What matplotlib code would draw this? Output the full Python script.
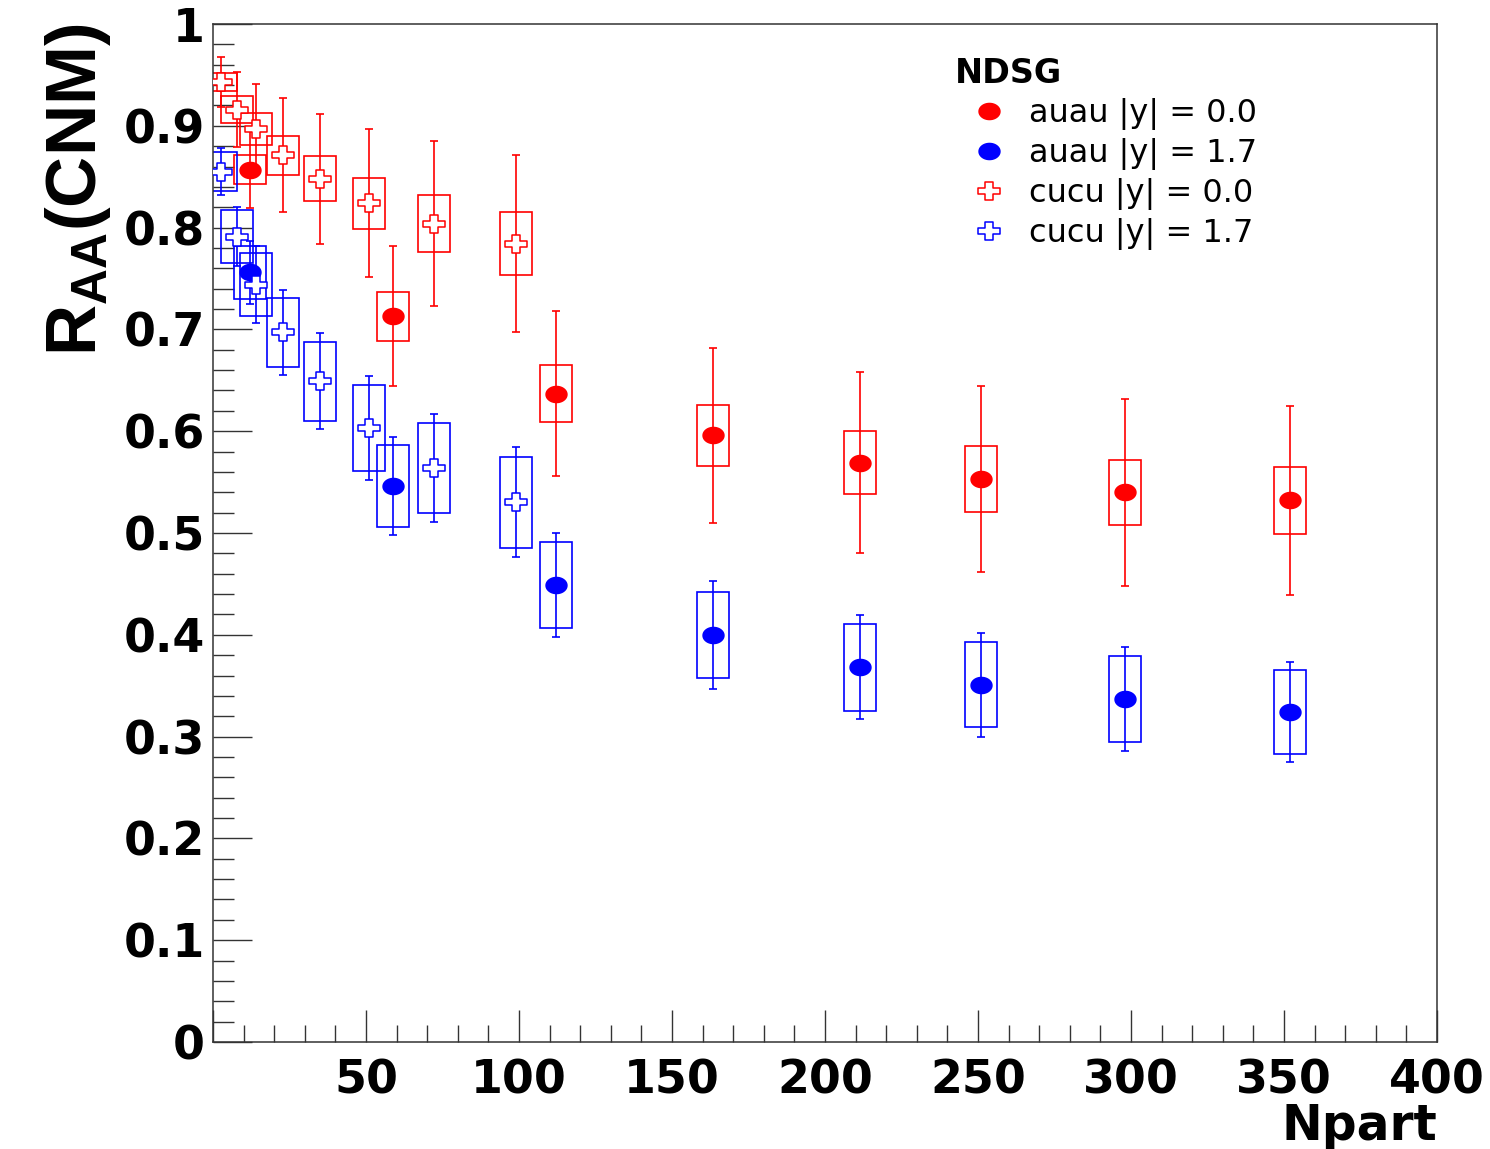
import numpy as np
import matplotlib
matplotlib.use("Agg")
from matplotlib import pyplot as plt
from matplotlib.path import Path
from matplotlib.patches import Rectangle
from matplotlib.ticker import MultipleLocator, FuncFormatter
from matplotlib.font_manager import FontProperties

# NDSG cold-nuclear-matter R_AA vs Npart
npart_auau = [12.1, 58.8, 112.1, 163.4, 211.4, 251.0, 298.0, 352.0]
raa_auau_y0 = [0.857, 0.713, 0.637, 0.596, 0.569, 0.553, 0.540, 0.532]
stat_auau_y0 = [0.038, 0.069, 0.081, 0.086, 0.089, 0.091, 0.092, 0.093]
sys_auau_y0 = [0.014, 0.024, 0.028, 0.030, 0.031, 0.032, 0.032, 0.033]

raa_auau_y17 = [0.756, 0.546, 0.449, 0.400, 0.368, 0.351, 0.337, 0.324]
stat_auau_y17 = [0.031, 0.048, 0.051, 0.053, 0.051, 0.051, 0.051, 0.049]
sys_auau_y17 = [0.026, 0.040, 0.042, 0.042, 0.043, 0.042, 0.042, 0.041]

npart_cucu = [2.6, 7.8, 14.1, 22.9, 35.0, 51.0, 72.2, 99.0]
raa_cucu_y0 = [0.943, 0.916, 0.897, 0.871, 0.848, 0.824, 0.804, 0.784]
stat_cucu_y0 = [0.025, 0.037, 0.044, 0.056, 0.064, 0.073, 0.081, 0.087]
sys_cucu_y0 = [0.009, 0.013, 0.016, 0.019, 0.022, 0.025, 0.028, 0.031]

raa_cucu_y17 = [0.855, 0.791, 0.744, 0.697, 0.649, 0.603, 0.564, 0.530]
stat_cucu_y17 = [0.023, 0.029, 0.038, 0.042, 0.047, 0.051, 0.053, 0.054]
sys_cucu_y17 = [0.019, 0.026, 0.031, 0.034, 0.039, 0.042, 0.044, 0.045]

labels = ["auau |y| = 0.0", "auau |y| = 1.7", "cucu |y| = 0.0", "cucu |y| = 1.7"]

BOX_HALF_WIDTH = 5.2

# slightly wide markers: a filled ellipse and an open cross
_t = np.linspace(0, 2 * np.pi, 60)
_ell = np.column_stack([1.3 * np.cos(_t), np.sin(_t)])
DOT = Path(np.vstack([_ell, _ell[:1]]), closed=True)

_a = 1.0 / 3.0
_sx = 1.24
_cross = np.array([
    (_a, 1), (_a, _a), (1, _a), (1, -_a), (_a, -_a), (_a, -1),
    (-_a, -1), (-_a, -_a), (-1, -_a), (-1, _a), (-_a, _a), (-_a, 1), (_a, 1),
]) * [_sx, 1]
CROSS = Path(_cross, closed=True)


def draw_series(ax, x, y, stat, syst, color, marker, ms, filled):
    for xi, yi, si in zip(x, y, syst):
        ax.add_patch(Rectangle((xi - BOX_HALF_WIDTH, yi - si), 2 * BOX_HALF_WIDTH, 2 * si,
                               fill=False, edgecolor=color, linewidth=1.2, zorder=2))
    ax.errorbar(x, y, yerr=stat, fmt="none", ecolor=color, elinewidth=1.2,
                capsize=3.2, capthick=1.2, zorder=3)
    (line,) = ax.plot(x, y, linestyle="none", marker=marker, markersize=ms,
                      markerfacecolor=color if filled else "white",
                      markeredgecolor=color, markeredgewidth=1.1, zorder=4)
    return line


plt.rcParams["mathtext.fontset"] = "custom"
plt.rcParams["mathtext.rm"] = "Liberation Sans:bold"
plt.rcParams["mathtext.bf"] = "Liberation Sans:bold"
plt.rcParams["mathtext.it"] = "Liberation Sans:bold"

fig = plt.figure(figsize=(14.9, 11.49), dpi=100)
ax = fig.add_axes([213 / 1490, 1 - 1042 / 1149, 1224 / 1490, 1018 / 1149])

h1 = draw_series(ax, npart_auau, raa_auau_y0, stat_auau_y0, sys_auau_y0, "#ff0000", DOT, 15, True)
h2 = draw_series(ax, npart_auau, raa_auau_y17, stat_auau_y17, sys_auau_y17, "#0000ff", DOT, 15, True)
h3 = draw_series(ax, npart_cucu, raa_cucu_y0, stat_cucu_y0, sys_cucu_y0, "#ff0000", CROSS, 16.3, False)
h4 = draw_series(ax, npart_cucu, raa_cucu_y17, stat_cucu_y17, sys_cucu_y17, "#0000ff", CROSS, 16.3, False)

ax.set_xlim(0, 400)
ax.set_ylim(0, 1)

tick_font = dict(family="DejaVu Sans", weight="bold", size=33)
xt = np.arange(0, 401, 50)
ax.set_xticks(xt)
ax.set_xticklabels(["" if v == 0 else f"{v}" for v in xt], fontdict=tick_font)
ax.xaxis.set_minor_locator(MultipleLocator(10))
ax.yaxis.set_major_locator(MultipleLocator(0.1))
ax.yaxis.set_minor_locator(MultipleLocator(0.02))
ax.yaxis.set_major_formatter(FuncFormatter(lambda v, p: f"{v:.1f}".rstrip("0").rstrip(".") if v else "0"))
for lab in ax.get_yticklabels():
    lab.set_fontproperties(FontProperties(**tick_font))

ax.tick_params(axis="both", which="both", direction="in", width=1.0, color="#333333")
ax.tick_params(axis="x", which="major", length=23, pad=12)
ax.tick_params(axis="x", which="minor", length=12)
ax.tick_params(axis="y", which="major", length=28, pad=6)
ax.tick_params(axis="y", which="minor", length=15)
for sp in ax.spines.values():
    sp.set_linewidth(1.1)
    sp.set_color("#333333")

ax.set_xlabel("Npart", loc="right", family="DejaVu Sans", weight="bold", size=35, labelpad=-1)

ax.set_ylabel(r"$\mathrm{R_{AA}}$(CNM)", loc="top", family="Liberation Sans",
              weight="bold", size=51)
ax.yaxis.set_label_coords(-0.082, 1.0)

leg = ax.legend([h1, h2, h3, h4], labels, title="NDSG", loc="upper left",
                bbox_to_anchor=(955 / 1490, 1 - 57 / 1149), bbox_transform=fig.transFigure,
                frameon=False, alignment="left", numpoints=1,
                prop=dict(family="DejaVu Sans", size=23),
                handlelength=2.1, handletextpad=0.22, labelspacing=0.25,
                borderpad=0.0, borderaxespad=0.0)
leg.get_title().set_fontproperties(FontProperties(family="DejaVu Sans", weight="bold", size=24))

fig.savefig("out.png", dpi=100)
